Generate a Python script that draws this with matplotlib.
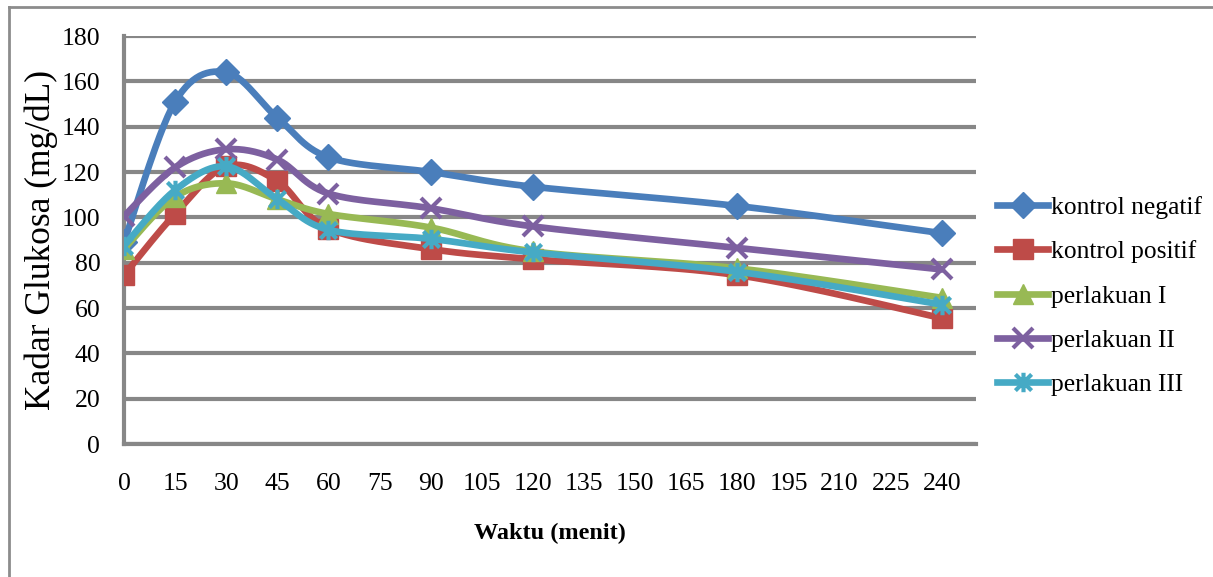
import numpy as np
import matplotlib.pyplot as plt
from matplotlib.lines import Line2D
from matplotlib.path import Path

# data
waktu = [0, 15, 30, 45, 60, 90, 120, 180, 240]
kontrol_negatif = [89, 151, 164, 144, 126.5, 120, 113.5, 105, 93]
kontrol_positif = [74.5, 101.5, 122.5, 116, 95, 86, 81.5, 74.5, 55.5]
perlakuan_1 = [86, 109, 115, 108, 101.5, 95.5, 85, 77.5, 64.5]
perlakuan_2 = [100.5, 122, 130, 125.5, 110.5, 104, 96, 86.5, 77]
perlakuan_3 = [87.5, 112, 122.5, 108, 94.5, 90.5, 84.5, 76, 61.5]

labels = ['kontrol negatif', 'kontrol positif', 'perlakuan I',
          'perlakuan II', 'perlakuan III']
xticks = list(range(0, 241, 15))
yticks = list(range(0, 181, 20))

plt.rcParams['font.family'] = ['Liberation Serif', 'DejaVu Serif']


def smooth(x, y, n=30):
    # excel-like smoothed line: bezier segments with catmull-rom controls
    x = np.asarray(x, float)
    y = np.asarray(y, float)
    pts = np.column_stack([x, y])
    out = []
    for i in range(len(pts) - 1):
        p0 = pts[i - 1] if i > 0 else pts[i]
        p1 = pts[i]
        p2 = pts[i + 1]
        p3 = pts[i + 2] if i + 2 < len(pts) else pts[i + 1]
        c1 = p1 + (p2 - p0) / 6
        c2 = p2 - (p3 - p1) / 6
        t = np.linspace(0, 1, n)[:, None]
        seg = ((1 - t) ** 3 * p1 + 3 * (1 - t) ** 2 * t * c1
               + 3 * (1 - t) * t ** 2 * c2 + t ** 3 * p2)
        out.append(seg if i == 0 else seg[1:])
    seg = np.vstack(out)
    return seg[:, 0], seg[:, 1]


# excel "star" marker: x with a vertical bar
star = Path([(-1, -1), (1, 1), (-1, 1), (1, -1), (0, -1.2), (0, 1.2)],
            [Path.MOVETO, Path.LINETO, Path.MOVETO, Path.LINETO,
             Path.MOVETO, Path.LINETO])

series = [kontrol_negatif, kontrol_positif, perlakuan_1, perlakuan_2, perlakuan_3]
colors = ['#4A7EBB', '#BE4B48', '#98B954', '#7D60A0', '#46AAC5']
markers = ['D', 's', '^', 'x', star]
msizes = [13, 14, 14, 14, 14]

fig = plt.figure(figsize=(12.13, 5.77), dpi=100)
ax = fig.add_axes([0.1022, 0.2305, 0.7024, 0.7071])

handles = []
for i, (vals, c, m, ms) in enumerate(zip(series, colors, markers, msizes)):
    sx, sy = smooth(waktu, vals)
    ax.plot(sx, sy, color=c, lw=4.8, solid_capstyle='round', zorder=3 + i)
    filled = m in ('D', 's', '^')
    ax.plot(waktu, vals, ls='none', marker=m, ms=ms, color=c,
            mfc=c if filled else 'none', mec=c,
            mew=1 if filled else 3, zorder=3 + i)
    handles.append(Line2D([], [], color=c, lw=4.8, marker=m, ms=ms,
                          mfc=c if filled else 'none', mec=c,
                          mew=1 if filled else 3))

ax.set_xlim(0, 250)
ax.set_ylim(0, 180)
ax.set_xticks(xticks)
ax.set_yticks(yticks)
ax.tick_params(length=0, labelsize=18.5)
ax.tick_params(axis='x', pad=21)
ax.tick_params(axis='y', pad=17)
ax.yaxis.grid(True, color='#878787', lw=3)
ax.set_axisbelow(True)
for s in ['top', 'right']:
    ax.spines[s].set_visible(False)
for s in ['left', 'bottom']:
    ax.spines[s].set_color('#878787')
    ax.spines[s].set_linewidth(3)

ax.set_xlabel('Waktu (menit)', fontsize=17.5, fontweight='bold', labelpad=20)
fig.text(0.034, 0.584, 'Kadar Glukosa (mg/dL)', rotation=90, fontsize=25.5,
         ha='center', va='center')

fig.legend(handles, labels, loc='center left', bbox_to_anchor=(0.803, 0.487),
           frameon=False, fontsize=18.4, handlelength=2.0, handletextpad=0.1,
           labelspacing=0.84)

# outer chart frame (cut at right and bottom)
fig.add_artist(Line2D([0.0074, 0.0074], [0.0, 0.988], color='#8c8c8c', lw=2))
fig.add_artist(Line2D([0.0074, 1.0], [0.988, 0.988], color='#8c8c8c', lw=2))

fig.savefig('out.png', dpi=100)
